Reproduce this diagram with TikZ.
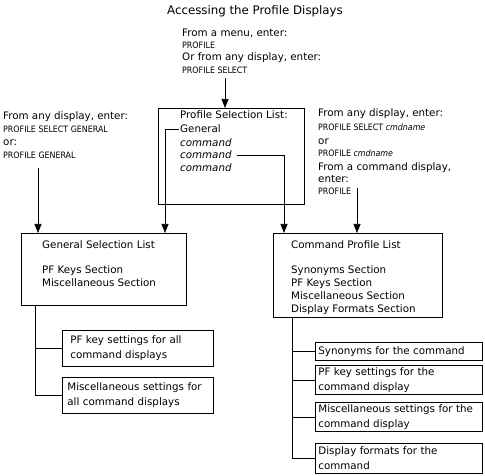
\documentclass[tikz,border=0pt]{standalone}
\usepackage{fontspec}
\setmainfont{DejaVu Sans}
\newfontfamily\condfont{DejaVu Sans Condensed}
\usetikzlibrary{arrows.meta}
\begin{document}
\begin{tikzpicture}[x=1pt,y=-1pt,
  every node/.style={inner sep=0pt, font=\fontsize{10.3}{15}\selectfont},
  txt/.style={anchor=base west},
  sm/.style={anchor=base west, font=\condfont\fontsize{8.8}{10}\selectfont},
  frame/.style={draw, line width=0.75pt, anchor=north west},
  sbox/.style={draw, line width=0.75pt, anchor=north west, align=left},
  arr/.style={line width=0.75pt, -{Triangle[width=7pt,length=9pt]}},
  ln/.style={line width=0.75pt}]
\useasboundingbox (0,0) rectangle (485,476);

% title
\node[font=\fontsize{11.8}{14}\selectfont] (title) at (255,11) {Accessing the Profile Displays};

% top instructions
\node[txt] (m1) at (182,37) {From a menu, enter:};
\node[sm] (m2) at (182,49) {PROFILE};
\node[txt] (m3) at (182,61) {Or from any display, enter:};
\node[sm] (m4) at (182,74) {PROFILE SELECT};

% profile selection list
\node[frame, minimum width=146pt, minimum height=96pt] (psl) at (158,108) {};
\node[txt] (pslt) at (180,119) {Profile Selection List:};
\node[txt, inner xsep=1pt] (gen) at (179,133) {General};
\node[txt] (c1) at (180,146.5) {\itshape command};
\node[txt] (c2) at (180,159) {\itshape command};
\node[txt] (c3) at (180,171.5) {\itshape command};

% left instructions
\node[txt] (l1) at (3,120) {From any display, enter:};
\node[sm] (l2) at (3,133) {PROFILE SELECT GENERAL};
\node[txt] (l3) at (3,146) {or:};
\node[sm] (l4) at (3,159) {PROFILE GENERAL};

% right instructions
\node[txt] (r1) at (318,117) {From any display, enter:};
\node[sm] (r2) at (318,131) {PROFILE SELECT \textit{cmdname}};
\node[txt] (r3) at (318,145) {or};
\node[sm] (r4) at (318,157) {PROFILE \textit{cmdname}};
\node[txt] (r5) at (318,171) {From a command display,};
\node[txt] (r6) at (318,183) {enter:};
\node[sm] (r7) at (318,194) {PROFILE};

% general selection list
\node[frame, minimum width=165pt, minimum height=72pt] (gsl) at (21,233) {};
\node[txt] (g1) at (42,248) {General Selection List};
\node[txt] (g2) at (42,273) {PF Keys Section};
\node[txt] (g3) at (42,286) {Miscellaneous Section};

% command profile list
\node[frame, minimum width=169pt, minimum height=84pt] (cpl) at (273,233) {};
\node[txt] (p1) at (291,248) {Command Profile List};
\node[txt] (p2) at (291,273) {Synonyms Section};
\node[txt] (p3) at (291,286) {PF Keys Section};
\node[txt] (p4) at (291,299) {Miscellaneous Section};
\node[txt] (p5) at (291,312) {Display Formats Section};

% detail boxes left
\node[sbox, inner xsep=8pt, text width=135pt, minimum height=36pt] (pfa) at (62,330) {PF key settings for all\\command displays};
\node[sbox, inner xsep=5pt, text width=141pt, minimum height=36pt] (misca) at (62,377) {Miscellaneous settings for\\all command displays};

% detail boxes right
\node[sbox, inner xsep=3pt, text width=161pt, minimum height=18pt] (syn) at (315,342) {Synonyms for the command};
\node[sbox, inner xsep=3pt, text width=161pt, minimum height=29pt] (pfb) at (315,365) {PF key settings for the\\command display};
\node[sbox, inner xsep=3pt, text width=161pt, minimum height=29pt] (miscb) at (315,402) {Miscellaneous settings for the\\command display};
\node[sbox, inner xsep=3pt, text width=161pt, minimum height=30pt] (disp) at (315,443) {Display formats for the\\command};

% arrows
\coordinate (a0) at (225,78);
\draw[arr] (a0) -- (a0 |- psl.north);
\coordinate (gk) at (165,0);
\draw[arr] (gen.west) -| (gk |- gsl.north);
\coordinate (ck) at (284,0);
\draw[arr] ([xshift=5pt]c2.east) -| (ck |- cpl.north);
\coordinate (la) at (38,168);
\draw[arr] (la) -- (la |- gsl.north);
\coordinate (ra) at (357,188);
\draw[arr] (ra) -- (ra |- cpl.north);

% trees
\coordinate (tk) at (35,0);
\draw[ln] (tk |- gsl.south) |- (pfa.west);
\draw[ln] (tk |- gsl.south) |- (misca.west);
\coordinate (tk2) at (292,0);
\draw[ln] (tk2 |- cpl.south) |- (syn.west);
\draw[ln] (tk2 |- cpl.south) |- (pfb.west);
\draw[ln] (tk2 |- cpl.south) |- (miscb.west);
\draw[ln] (tk2 |- cpl.south) |- (disp.west);
\end{tikzpicture}
\end{document}
